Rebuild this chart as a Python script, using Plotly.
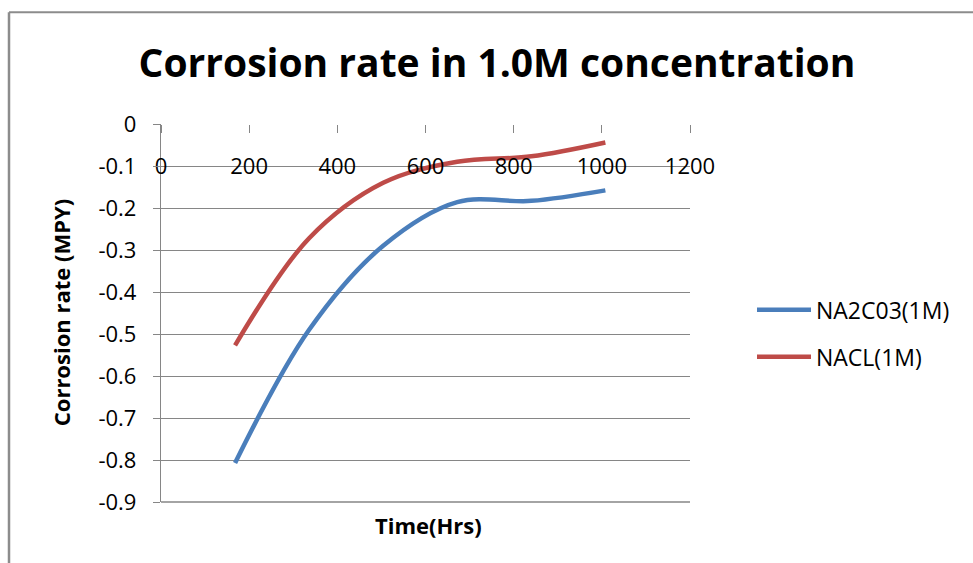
import plotly.graph_objects as go

hours = [168, 336, 504, 672, 840, 1008]
na2co3 = [-0.807, -0.49, -0.29, -0.186, -0.183, -0.158]
nacl = [-0.527, -0.272, -0.14, -0.09, -0.077, -0.044]

x_ticks = [0, 200, 400, 600, 800, 1000, 1200]
y_ticks = [0, -0.1, -0.2, -0.3, -0.4, -0.5, -0.6, -0.7, -0.8, -0.9]

FONT = "Open Sans"
GRID = "#868686"

fig = go.Figure()
fig.add_trace(go.Scatter(x=hours, y=na2co3, name="NA2C03(1M)", mode="lines",
                         line=dict(color="#4A7EBB", width=4.5, shape="spline", smoothing=1),
                         legendgroup="a"))
fig.add_trace(go.Scatter(x=hours, y=nacl, name="NACL(1M)", mode="lines",
                         line=dict(color="#BE4B48", width=4.5, shape="spline", smoothing=1),
                         legendgroup="b"))

W, H = 973, 563
L, R, T, B = 161, 690, 123.5, 502
pw, ph = R - L, B - T

def px(x):
    return (x - L) / pw

def py(y):
    return (B - y) / ph

fig.update_layout(
    width=W, height=H,
    margin=dict(l=L, r=W - R, t=T, b=H - B, pad=0),
    paper_bgcolor="white", plot_bgcolor="white",
    font=dict(family=FONT, color="black"),
    title=dict(text="<b>Corrosion rate in 1.0M concentration</b>",
               font=dict(family=FONT, size=39, color="black"),
               x=497 / W, xanchor="center", y=1 - 63 / H, yanchor="middle"),
    showlegend=True,
    legend=dict(x=px(752), xanchor="left", y=py(288), yanchor="top",
                font=dict(family=FONT, size=23, color="black"),
                traceorder="grouped", tracegroupgap=14, itemwidth=54,
                bgcolor="rgba(0,0,0,0)"),
    xaxis=dict(range=[0, 1200], tickvals=x_ticks, ticktext=[str(v) for v in x_ticks],
               anchor="free", position=1, side="bottom",
               showline=False, showgrid=False, zeroline=False,
               ticks="outside", ticklen=8, tickwidth=1.3, tickcolor=GRID,
               ticklabelstandoff=15,
               tickfont=dict(family=FONT, size=22, color="black")),
    yaxis=dict(range=[-0.9, 0], tickvals=y_ticks,
               ticktext=["0" if v == 0 else f"{v:.1f}" for v in y_ticks],
               showline=True, linecolor=GRID, linewidth=1.3,
               showgrid=True, gridcolor=GRID, gridwidth=1.3, zeroline=False,
               ticks="outside", ticklen=7, tickwidth=1.3, tickcolor=GRID,
               ticklabelstandoff=12,
               tickfont=dict(family=FONT, size=22, color="black")),
    annotations=[
        dict(text="<b>Corrosion rate (MPY)</b>", textangle=-90, xref="paper", yref="paper",
             x=px(61), y=py(313), xanchor="center", yanchor="middle", showarrow=False,
             font=dict(family=FONT, size=22, color="black")),
        dict(text="<b>Time(Hrs)</b>", xref="paper", yref="paper",
             x=px(428), y=py(525), xanchor="center", yanchor="middle", showarrow=False,
             font=dict(family=FONT, size=22, color="black")),
    ],
    shapes=[
        dict(type="line", xref="paper", yref="paper", x0=0, x1=1, y0=0, y1=0,
             line=dict(color=GRID, width=1.3)),
        dict(type="line", xref="paper", yref="paper", x0=px(9), x1=px(990), y0=py(11.5), y1=py(11.5),
             line=dict(color="#8c8c8c", width=2)),
        dict(type="line", xref="paper", yref="paper", x0=px(9), x1=px(9), y0=py(11.5), y1=py(580),
             line=dict(color="#8c8c8c", width=2.5)),
    ],
)

fig.write_html("out.html", config={"displayModeBar": False},
               post_script="document.body.style.margin='0';document.body.style.overflow='hidden';")
